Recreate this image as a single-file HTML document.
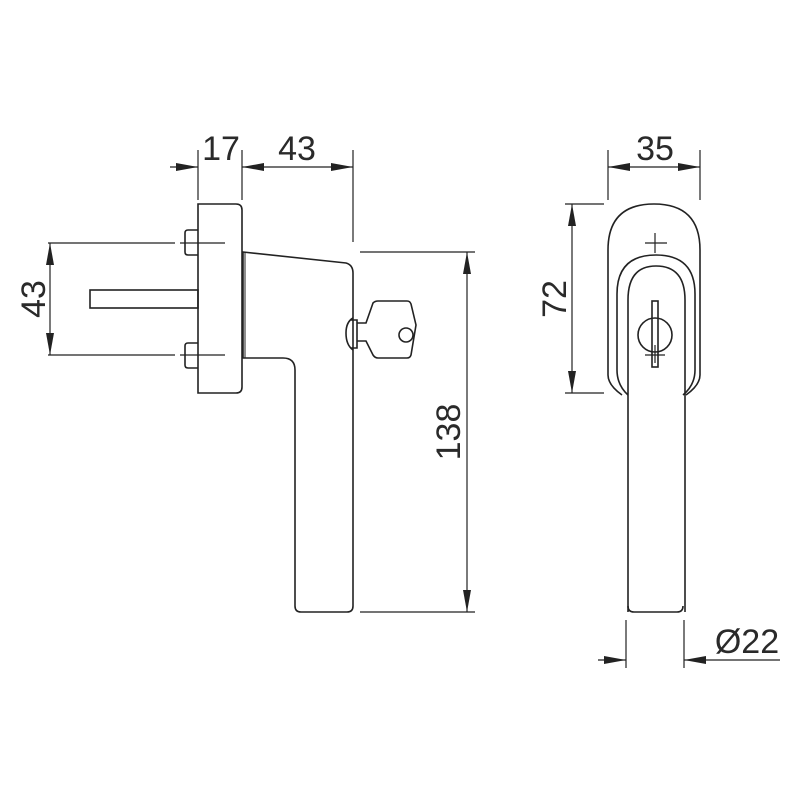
<!DOCTYPE html><html><head><style>body{margin:0;background:#fff}svg{display:block}text{font-family:"Liberation Sans",sans-serif;fill:#2a2a2a}</style></head><body>
<svg width="800" height="800" viewBox="0 0 800 800" fill="none" stroke="#222" stroke-width="1.6">
<defs><marker id="a" viewBox="0 0 22 8" refX="22" refY="4" markerWidth="22" markerHeight="8" orient="auto-start-reverse" markerUnits="userSpaceOnUse"><path d="M0,0L22,4L0,8z" fill="#222" stroke="none"/></marker></defs>
<!-- left view -->
<path d="M198,204H236Q242,204 242,210V387Q242,393 236,393H198Z"/>
<path d="M198,230H188Q185,230 185,233V252Q185,255 188,255H198"/>
<path d="M198,343H188Q185,343 185,346V365Q185,368 188,368H198"/>
<rect x="90" y="290" width="108" height="18"/>
<path d="M48,243H175M180,243H225M48,355H175M180,355H225" stroke-width="1.2"/>
<path d="M243,252L346,263Q353,265 353,273V606Q353,612 347,612H301Q295,612 295,606V370Q295,358 283,358H243Z"/>
<path d="M245,252V358" stroke-width="1"/>
<path d="M353,318Q346,322 346,333Q346,345 353,350M351,320H357V348H351"/>
<path d="M357,323H366L373,303Q375,301 378,301H407Q410,301 411,304L416,325L411,355Q410,358 407,358H378Q375,358 373,355L366,341H357"/>
<circle cx="406" cy="335" r="7"/>
<!-- dims left -->
<path d="M198,150V200M242,150V200M353,150V242" stroke-width="1.2"/>
<path d="M170,167H198" marker-end="url(#a)" stroke-width="1.2"/>
<path d="M242,167H353" marker-start="url(#a)" marker-end="url(#a)" stroke-width="1.2"/>
<path d="M50,243V355" marker-start="url(#a)" marker-end="url(#a)" stroke-width="1.2"/>
<path d="M360,252H475M360,612H475" stroke-width="1.2"/>
<path d="M467,252V612" marker-start="url(#a)" marker-end="url(#a)" stroke-width="1.2"/>
<!-- right view -->
<path d="M608,375V250Q608,204 654,204Q700,204 700,250V375Q700,385 686,395"/>
<path d="M622,395Q608,385 608,375"/>
<path d="M628,395Q617,385 617,370V294Q617,255 656,255Q695,255 695,294V370Q695,385 683,395"/>
<path d="M628,612V300Q628,266 656,266Q685,266 685,300V612"/>
<path d="M628,606Q628,612 634,612H677Q683,612 683,606" />
<circle cx="655" cy="335" r="17"/>
<rect x="652" y="301" width="6" height="66"/>
<path d="M645,243H667M655,233V253M645,355H665M655,345V363" stroke-width="1.2"/>
<path d="M608,150V200M700,150V200" stroke-width="1.2"/>
<path d="M608,167H700" marker-start="url(#a)" marker-end="url(#a)" stroke-width="1.2"/>
<path d="M565,204H604M565,393H604" stroke-width="1.2"/>
<path d="M572,204V393" marker-start="url(#a)" marker-end="url(#a)" stroke-width="1.2"/>
<path d="M626,620V668M684,620V668" stroke-width="1.2"/>
<path d="M598,660H626" marker-end="url(#a)" stroke-width="1.2"/>
<path d="M780,660H684" marker-end="url(#a)" stroke-width="1.2"/>
<g stroke="none" font-size="34">
<text x="221" y="160" text-anchor="middle">17</text>
<text x="297" y="160" text-anchor="middle">43</text>
<text x="655" y="160" text-anchor="middle">35</text>
<text x="747" y="653" text-anchor="middle">Ø22</text>
<text transform="translate(45,299) rotate(-90)" text-anchor="middle">43</text>
<text transform="translate(460,432) rotate(-90)" text-anchor="middle">138</text>
<text transform="translate(566,299) rotate(-90)" text-anchor="middle">72</text>
</g>
</svg></body></html>
